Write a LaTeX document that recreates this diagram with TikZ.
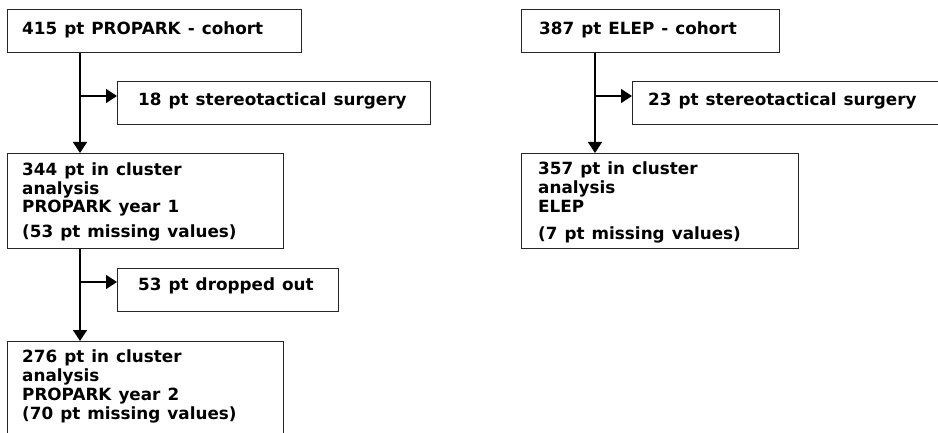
\documentclass[tikz,border=0pt]{standalone}
\usepackage{fontspec}
\setmainfont{DejaVu Sans}
\usetikzlibrary{arrows.meta}
\newcommand\mywsp{\spaceskip 0.42em\relax}
\begin{document}
\begin{tikzpicture}[x=1pt,y=-1pt,
  box/.style={draw=black!85,line width=1.3pt,rectangle,inner sep=0pt,anchor=north west},
  txt/.style={anchor=base west,inner sep=0pt,font=\fontsize{16.8}{19}\selectfont\bfseries\mywsp},
  flow/.style={line width=1.3pt,-{Triangle[length=11pt,width=14pt]}}]
\useasboundingbox (0,0) rectangle (938,433);
\clip (0,0) rectangle (938,433);
% left column boxes
\node[box,minimum width=294pt,minimum height=43pt] (a) at (7,9) {};
\node[box,minimum width=313pt,minimum height=43pt] (b) at (117,81) {};
\node[box,minimum width=276pt,minimum height=95pt] (c) at (7,153) {};
\node[box,minimum width=221pt,minimum height=43pt] (d) at (117,268) {};
\node[box,minimum width=276pt,minimum height=104pt] (e) at (7,341) {};
% right column boxes
\node[box,minimum width=258pt,minimum height=43pt] (f) at (521,9) {};
\node[box,minimum width=313pt,minimum height=43pt] (g) at (632,81) {};
\node[box,minimum width=277pt,minimum height=95pt] (h) at (521,153) {};
% texts
\node[txt] (ta) at (22,35) {415 pt PROPARK - cohort};
\node[txt] (tb) at (138,106) {18 pt stereotactical surgery};
\node[txt] (tc1) at (22,176) {344 pt in cluster};
\node[txt] (tc2) at (22,195) {analysis};
\node[txt] (tc3) at (22,213) {PROPARK year 1};
\node[txt] (tc4) at (22,237) {(53 pt missing values)};
\node[txt] (td) at (138,290) {53 pt dropped out};
\node[txt] (te1) at (22,362) {276 pt in cluster};
\node[txt] (te2) at (22,381) {analysis};
\node[txt] (te3) at (22,400) {PROPARK year 2};
\node[txt] (te4) at (22,419) {(70 pt missing values)};
\node[txt] (tf) at (539,35) {387 pt ELEP - cohort};
\node[txt] (tg) at (648,106) {23 pt stereotactical surgery};
\node[txt] (th1) at (538,175) {357 pt in cluster};
\node[txt] (th2) at (538,194) {analysis};
\node[txt] (th3) at (538,213) {ELEP};
\node[txt] (th4) at (538,240) {(7 pt missing values)};
% connectors
\coordinate (j1) at (80,96);
\coordinate (j2) at (80,282);
\coordinate (j3) at (595,96);
\draw[flow] (a.south west -| j1) -- (c.north west -| j1);
\draw[flow] (j1) -- (j1 -| b.west);
\draw[flow] (c.south west -| j2) -- (e.north west -| j2);
\draw[flow] (j2) -- (j2 -| d.west);
\draw[flow] (f.south west -| j3) -- (h.north west -| j3);
\draw[flow] (j3) -- (j3 -| g.west);
\end{tikzpicture}
\end{document}
